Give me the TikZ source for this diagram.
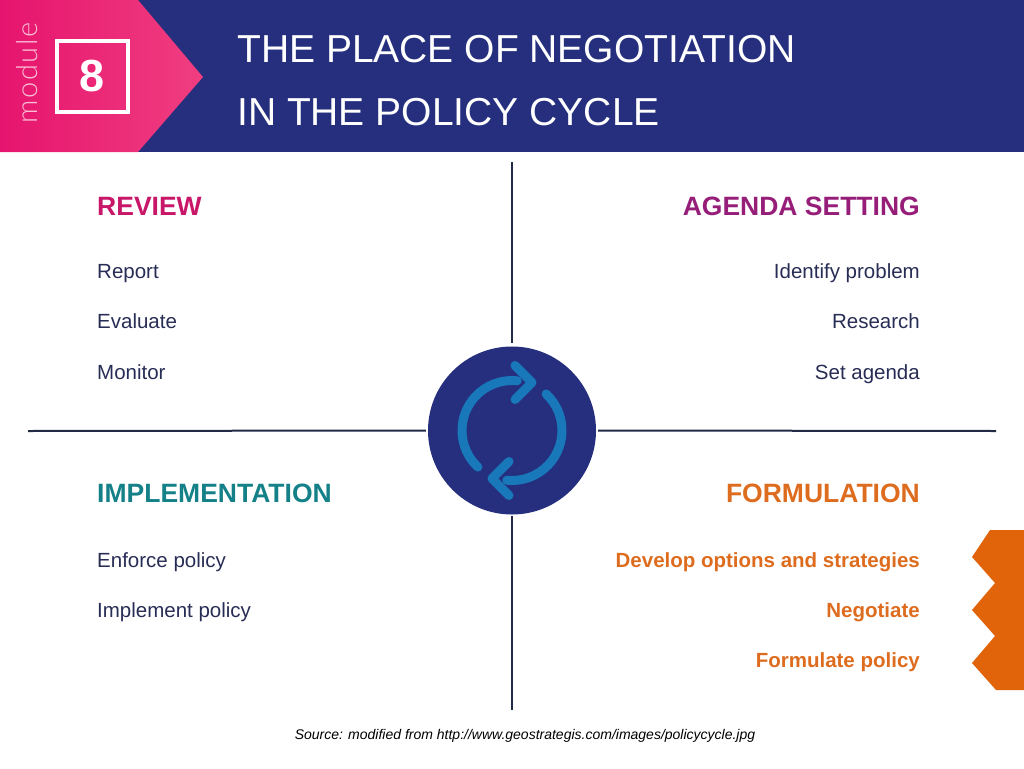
\documentclass[tikz,border=0pt]{standalone}
\usepackage{fontspec}
\setmainfont{Liberation Sans}
\newfontfamily\thinfont{Lato-Light}[Extension=.ttf, LetterSpace=6]
\usepackage{tikz}
\usetikzlibrary{shapes,positioning}
\definecolor{navy}{RGB}{37,47,126}
\definecolor{pinkL}{RGB}{230,20,110}
\definecolor{pinkR}{RGB}{240,62,128}
\definecolor{iconblue}{RGB}{24,120,185}
\definecolor{reviewc}{RGB}{200,22,105}
\definecolor{agendac}{RGB}{150,30,120}
\definecolor{implc}{RGB}{20,128,135}
\definecolor{formc}{RGB}{222,108,30}
\definecolor{itemc}{RGB}{40,45,85}
\definecolor{axisc}{RGB}{35,42,70}
\definecolor{zigc}{RGB}{225,100,10}
\tikzstyle{heading}=[inner sep=0pt, font=\bfseries\fontsize{26.5}{30}\selectfont]
\tikzstyle{headL}=[heading, anchor=base west]
\tikzstyle{headR}=[heading, anchor=base east]
\tikzstyle{item}=[inner sep=0pt, color=itemc, font=\fontsize{20.5}{24}\selectfont]
\tikzstyle{itemL}=[item, anchor=base west]
\tikzstyle{itemR}=[item, anchor=base east]
\tikzstyle{itemO}=[item, anchor=base east, color=formc, font=\bfseries\fontsize{20.5}{24}\selectfont]
\tikzstyle{axis}=[line width=2pt, color=axisc]
\tikzstyle{icon}=[line width=9pt, color=iconblue, line cap=round, line join=round]
\begin{document}
\begin{tikzpicture}[x=1pt, y=-1pt]
	\useasboundingbox (0,0) rectangle (1024,768);

	\fill[navy] (0,0) rectangle (1024,152);
	\shade[left color=pinkL, right color=pinkR] (0,0) -- (138,0) -- (203,77) -- (138,152) -- (0,152) -- cycle;
	\node[rotate=90, text=white!65!pinkR, font=\thinfont\fontsize{29}{29}\selectfont] (modlabel) at (27,73) {module};
	\node[draw=white, line width=4pt, minimum size=71pt, text=white, font=\bfseries\fontsize{45}{45}\selectfont] (badge) at (92.5,76.5) {8};
	\node[anchor=base west, inner sep=0pt, text=white, font=\fontsize{39}{39}\selectfont] (title1) at (237,63) {THE PLACE OF NEGOTIATION};
	\node[anchor=base west, inner sep=0pt, text=white, font=\fontsize{39}{39}\selectfont] (title2) at (237,125) {IN THE POLICY CYCLE};

	\node[circle, fill=navy, minimum size=168pt, inner sep=0pt] (hub) at (512,430.5) {};
	\begin{scope}[shift={(512,430.5)}, yscale=-1]
		\draw[icon] (227:50) arc (227:84:50);
		\draw[icon] (3,65) -- (20,48) -- (3,31);
		\draw[icon] (47:50) arc (47:-96:50);
		\draw[icon] (-3,-65) -- (-20,-48) -- (-3,-31);
	\end{scope}

	\coordinate (vtop) at (512,162);
	\coordinate (vbot) at (512,710);
	\coordinate (hleft) at (28,431);
	\coordinate (hright) at (996,431);
	\draw[axis] (vtop) -- ([yshift=3pt]hub.north);
	\draw[axis] ([yshift=-1pt]hub.south) -- (vbot);
	\draw[axis] (hleft) -- ([xshift=-2pt]hub.west);
	\draw[axis] ([xshift=2pt]hub.east) -- (hright);

	\node[headL, text=reviewc] (review) at (97,215) {REVIEW};
	\foreach \txt/\yy [count=\i] in {Report/278, Evaluate/328, Monitor/379}{
		\node[itemL] (review\i) at (97,\yy) {\txt};
	}
	\node[headR, text=agendac] (agenda) at (920,215) {AGENDA SETTING};
	\foreach \txt/\yy [count=\i] in {Identify problem/278, Research/328, Set agenda/379}{
		\node[itemR] (agenda\i) at (920,\yy) {\txt};
	}
	\node[headL, text=implc] (impl) at (97,502) {IMPLEMENTATION};
	\foreach \txt/\yy [count=\i] in {Enforce policy/567, Implement policy/617}{
		\node[itemL] (impl\i) at (97,\yy) {\txt};
	}
	\node[headR, text=formc] (form) at (920,502) {FORMULATION};
	\foreach \txt/\yy [count=\i] in {Develop options and strategies/567, Negotiate/617, Formulate policy/667}{
		\node[itemO] (form\i) at (920,\yy) {\txt};
	}

	\fill[zigc] (990,530) -- (1024,530) -- (1024,690) -- (996,690) -- (972,663) -- (995,636) -- (972,610) -- (995,583) -- (972,557) -- cycle;

	\node[anchor=base, inner sep=0pt, font=\itshape\fontsize{14}{14}\selectfont] (source) at (525,739) {Source: modified from http://www.geostrategis.com/images/policycycle.jpg};
\end{tikzpicture}
\end{document}
